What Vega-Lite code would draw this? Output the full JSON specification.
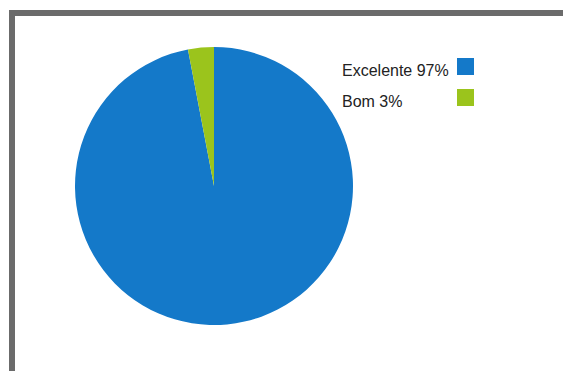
{
  "$schema": "https://vega.github.io/schema/vega-lite/v6.json",
  "autosize": "none",
  "padding": {"left": 12, "top": 13, "right": 0, "bottom": 0},
  "width": 580,
  "height": 380,
  "background": "white",
  "view": {"stroke": "#6b6b6b", "strokeWidth": 6, "fill": "white"},
  "data": {"values": [
    {"categoria": "Excelente 97%", "valor": 97},
    {"categoria": "Bom 3%", "valor": 3}
  ]},
  "mark": {"type": "arc", "outerRadius": 139, "x": 202, "y": 173},
  "encoding": {
    "theta": {"field": "valor", "type": "quantitative", "stack": true},
    "order": {"field": "valor", "type": "quantitative", "sort": "descending"},
    "color": {
      "field": "categoria",
      "type": "nominal",
      "sort": ["Excelente 97%", "Bom 3%"],
      "scale": {"domain": ["Excelente 97%", "Bom 3%"], "range": ["#1479c9", "#9bc41c"]},
      "legend": {
        "title": null,
        "orient": "none",
        "legendX": 445,
        "legendY": 45,
        "padding": 0,
        "symbolType": "square",
        "symbolSize": 289,
        "symbolStrokeWidth": 0,
        "labelAlign": "left",
        "labelOffset": -132,
        "labelFont": "Liberation Sans",
        "labelFontSize": 16,
        "labelColor": "#222222",
        "labelLimit": 300,
        "rowPadding": 10,
        "encode": {"labels": {"update": {"dy": {"value": 4}}}}
      }
    }
  }
}
